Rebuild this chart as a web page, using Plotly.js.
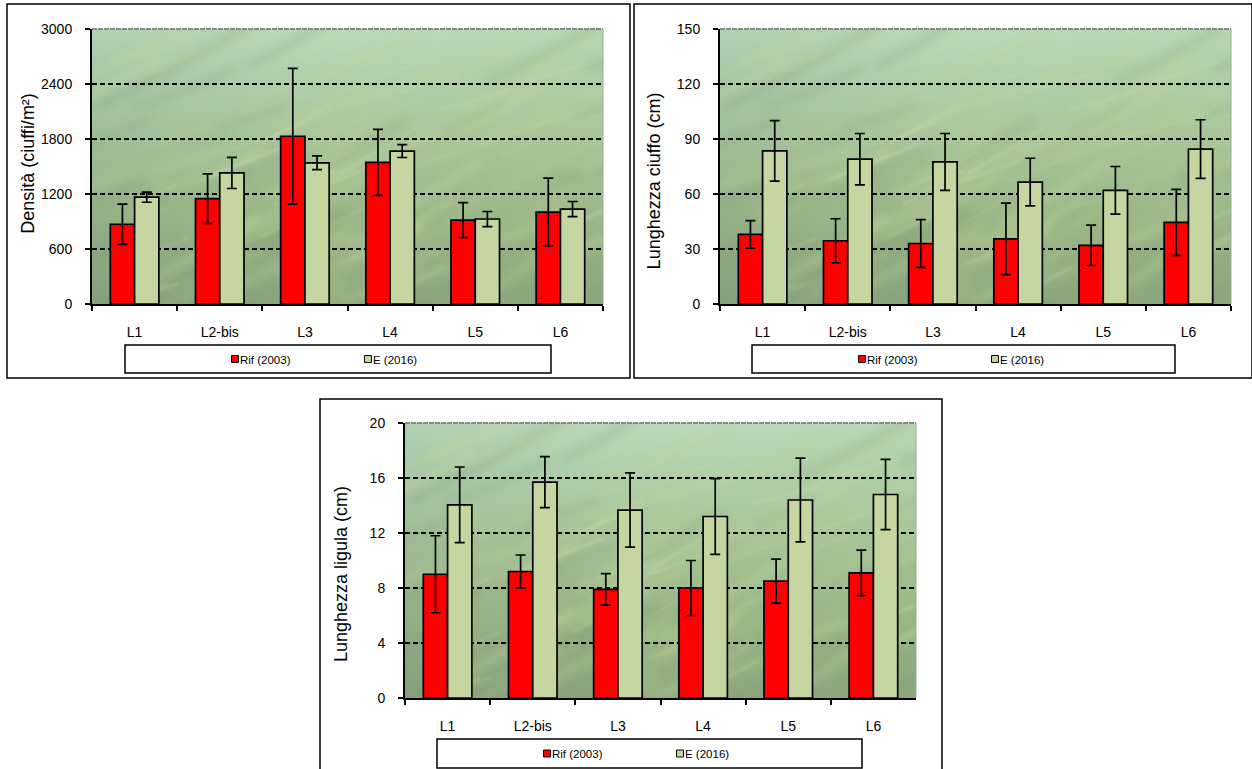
<!DOCTYPE html>
<html><head><meta charset="utf-8">
<script src="https://cdn.plot.ly/plotly-3.0.1.min.js"></script>
<style>html,body{margin:0;padding:0;background:#fff;overflow:hidden}</style>
</head><body><div id="chart" style="width:1252px;height:769px"></div>
<script>
const categories = ["L1","L2-bis","L3","L4","L5","L6"];
const rifName = "Rif (2003)";
const eName = "E (2016)";

const densRif = [870,1150,1830,1545,915,1003];
const densRifErr = [220,270,740,360,190,370];
const densE = [1165,1430,1540,1668,927,1036];
const densEErr = [55,170,75,70,82,82];

const ciuffoRif = [38,34.5,33,35.5,32,44.5];
const ciuffoRifErr = [7.5,12,13,19.5,11,18];
const ciuffoE = [83.5,79,77.5,66.5,62,84.5];
const ciuffoEErr = [16.5,14,15.5,13,13,16];

const ligulaRif = [9,9.2,7.9,8,8.5,9.1];
const ligulaRifErr = [2.8,1.2,1.15,2,1.6,1.65];
const ligulaE = [14.05,15.7,13.67,13.2,14.4,14.8];
const ligulaEErr = [2.75,1.85,2.7,2.75,3.05,2.55];

const W = 1252, H = 769;
const px = v => v / W, py = v => 1 - v / H;

// painted stand-in for the seagrass photograph behind each plot
function texture(){
  const c = document.createElement('canvas'); c.width = 511; c.height = 275;
  const g = c.getContext('2d');
  const v = g.createLinearGradient(0,0,0,275);
  v.addColorStop(0,'#bcdcc0'); v.addColorStop(.15,'#b2d3b3'); v.addColorStop(.4,'#a8c69c');
  v.addColorStop(.7,'#98b488'); v.addColorStop(1,'#87a17c');
  g.fillStyle = v; g.fillRect(0,0,511,275);
  const h = g.createLinearGradient(0,0,511,0);
  h.addColorStop(0,'rgba(120,150,125,.18)'); h.addColorStop(.45,'rgba(170,195,130,.10)'); h.addColorStop(1,'rgba(165,195,130,.18)');
  g.fillStyle = h; g.fillRect(0,0,511,275);
  const hash = n => { const s = Math.sin(n*12.9898)*43758.5453; return s - Math.floor(s); };
  g.lineCap = 'round';
  g.filter = 'blur(4px)';
  for (let i = 0; i < 80; i++) {
    const x = hash(i+1)*540-40, y = 30+hash(i+101)*260, len = 40+hash(i+201)*130, slope = .22+hash(i+301)*.4;
    g.strokeStyle = i%3===0 ? '#7f9d74' : (i%3===1 ? '#bcd496' : '#c6d9a2');
    g.globalAlpha = i%3===0 ? .25 : .3;
    g.lineWidth = 2+hash(i+401)*9;
    g.beginPath(); g.moveTo(x,y); g.quadraticCurveTo(x+len/2,y-len*slope/2+6,x+len,y-len*slope); g.stroke();
  }
  g.filter = 'blur(1.6px)';
  for (let i = 0; i < 40; i++) {
    const x = hash(i+501)*500, y = 45+hash(i+601)*230, len = 25+hash(i+701)*70, slope = .25+hash(i+801)*.35;
    g.strokeStyle = '#d0e2b4'; g.globalAlpha = .28; g.lineWidth = 1+hash(i+901)*1.6;
    g.beginPath(); g.moveTo(x,y); g.lineTo(x+len,y-len*slope); g.stroke();
  }
  g.filter = 'none'; g.globalAlpha = 1;
  return c.toDataURL('image/png');
}
const bg = texture();

const panels = [
  {sfx:'', leg:'legend', title:'Densità (ciuffi/m²)', rif:densRif, rifE:densRifErr, e:densE, eE:densEErr, max:3000, step:600, x0:92, y0:29, stand:2, shift:-3, frame:[7,4,630,378], box:[125,345,551,373]},
  {sfx:'2', leg:'legend2', title:'Lunghezza ciuffo (cm)', rif:ciuffoRif, rifE:ciuffoRifErr, e:ciuffoE, eE:ciuffoEErr, max:150, step:30, x0:720, y0:29, stand:12, shift:14.5, frame:[634,4,1252,378], box:[752,345,1175,373]},
  {sfx:'3', leg:'legend3', title:'Lunghezza ligula (cm)', rif:ligulaRif, rifE:ligulaRifErr, e:ligulaE, eE:ligulaEErr, max:20, step:4, x0:405, y0:423, stand:17, shift:13.5, frame:[320,399,942,772], box:[437,739,862,768]}
];
const PW = 511, PH = 275;
const traces = [], layout = {
  width:W, height:H, margin:{l:0,r:0,t:0,b:0}, paper_bgcolor:'#fff', plot_bgcolor:'rgba(0,0,0,0)',
  barmode:'group', bargap:0.43, bargroupgap:0, showlegend:true,
  font:{family:'"Liberation Sans", Arial, sans-serif', color:'#000', size:14},
  shapes:[], images:[]
};
panels.forEach(p => {
  const xa = 'x'+p.sfx, ya = 'y'+p.sfx;
  [[rifName,p.rif,p.rifE,'#ff0000'],[eName,p.e,p.eE,'#c5d6a0']].forEach(t => traces.push({
    type:'bar', name:t[0], x:categories, y:t[1], xaxis:xa, yaxis:ya, legend:p.leg,
    marker:{color:t[3], line:{color:'#000', width:1.7}},
    error_y:{type:'data', array:t[2], visible:true, color:'#000', thickness:1.7, width:5},
    cliponaxis:false, hoverinfo:'x+y+name'
  }));
  layout['xaxis'+p.sfx] = {
    domain:[px(p.x0), px(p.x0+PW)], anchor:ya, type:'category', categoryorder:'array', categoryarray:categories,
    tickmode:'array', tickvals:categories, ticktext:categories, tickson:'boundaries', ticks:'outside', ticklen:5, tickwidth:1.5, tickcolor:'#000',
    ticklabelstandoff:14, showline:true, linecolor:'#000', linewidth:2, showgrid:false, zeroline:false, fixedrange:true, tickfont:{size:14}
  };
  layout['yaxis'+p.sfx] = {
    domain:[py(p.y0+PH), py(p.y0)], anchor:xa, range:[0,p.max], tick0:0, dtick:p.step,
    ticks:'outside', ticklen:5, tickwidth:1.5, tickcolor:'#000', showline:true, linecolor:'#000', linewidth:2,
    ticklabelstandoff:10,
    showgrid:true, gridcolor:'#000', griddash:'5px,3px', gridwidth:1.5, zeroline:false, fixedrange:true, tickfont:{size:14},
    title:{text:p.title, font:{size:18}, standoff:p.stand}, automargin:false
  };
  layout[p.leg] = {
    orientation:'h', xref:'paper', yref:'paper', xanchor:'left', yanchor:'middle',
    x:px(p.box[0]+75), y:py((p.box[1]+p.box[3])/2), entrywidth:88, entrywidthmode:'pixels',
    bgcolor:'rgba(0,0,0,0)', borderwidth:0, font:{size:11.5}, itemclick:false, itemdoubleclick:false
  };
  layout.images.push({source:bg, xref:xa+' domain', yref:ya+' domain', x:0, y:1, sizex:1, sizey:1, sizing:'stretch', xanchor:'left', yanchor:'top', layer:'below'});
  layout.shapes.push(
    {type:'rect', xref:'paper', yref:'paper', x0:px(p.frame[0]), x1:px(p.frame[2]), y0:py(p.frame[1]), y1:py(p.frame[3]), line:{color:'#000',width:1.5}, fillcolor:'rgba(0,0,0,0)', layer:'below'},
    {type:'rect', xref:'paper', yref:'paper', x0:px(p.box[0]), x1:px(p.box[2]), y0:py(p.box[1]), y1:py(p.box[3]), line:{color:'#000',width:1.5}, fillcolor:'#fff', layer:'below'},
    {type:'line', xref:xa+' domain', yref:ya+' domain', x0:0, x1:1, y0:1, y1:1, line:{color:'#808c80',width:2,dash:'5px,1px'}, layer:'above'},
    {type:'line', xref:xa+' domain', yref:ya+' domain', x0:1, x1:1, y0:0, y1:1, line:{color:'#9aa89a',width:1}, layer:'above'}
  );
});
Plotly.newPlot('chart', traces, layout, {displayModeBar:false}).then(gd => {
  gd.querySelectorAll('.legendpoints path').forEach(p => {
    p.setAttribute('transform', (p.getAttribute('transform')||'') + ' translate(15,0) scale(.58)');
  });
  panels.forEach(p => {
    const t = gd.querySelector('.y'+p.sfx+'title');
    if (t) t.setAttribute('transform', 'translate(0,'+p.shift+') ' + (t.getAttribute('transform')||''));
  });
});
</script></body></html>
